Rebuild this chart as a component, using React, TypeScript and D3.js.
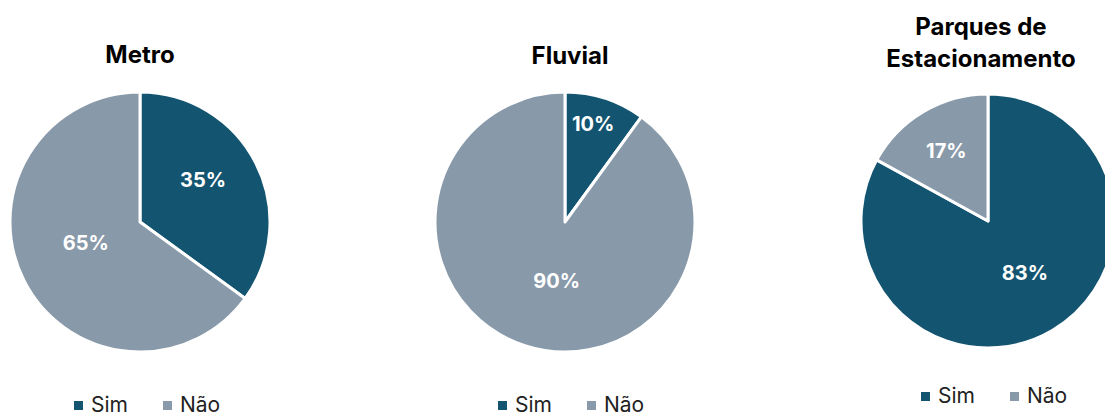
import React from "react";
import * as d3 from "d3";

const categories = ["Sim", "Não"];
const titles = [["Metro"], ["Fluvial"], ["Parques de", "Estacionamento"]];
const metroValues = [35, 65];
const fluvialValues = [10, 90];
const parquesValues = [83, 17];
const seriesValues = [metroValues, fluvialValues, parquesValues];

const colors = ["#135571", "#8899A9"];
const FONT = "Inter, 'Liberation Sans', Arial, sans-serif";

// layout per panel (positions/styles only): label radius factor and angular nudge (deg)
const layout = [
  { cx: 140, cy: 222, r: 130, titleY: [63], legendX: 148, legendY: 412, labelR: [0.585, 0.446], labelShift: [-7, 6] },
  { cx: 565, cy: 222, r: 130, titleY: [64], legendX: 572, legendY: 412, labelR: [0.785, 0.46], labelShift: [-2, -10] },
  { cx: 988, cy: 221, r: 127, titleY: [35, 67], legendX: 995, legendY: 403, labelR: [0.5, 0.645], labelShift: [-5, 0] },
];

function Panel({ idx }: { idx: number }) {
  const L = layout[idx];
  const values = seriesValues[idx];
  const pie = d3.pie<number>().sort(null).value((d) => d).startAngle(0).endAngle(2 * Math.PI);
  const arcs = pie(values);
  const arcGen = d3.arc<d3.PieArcDatum<number>>().innerRadius(0).outerRadius(L.r);
  const total = d3.sum(values);

  const markerSize = 9;
  const gapMarkerText = 8;
  const itemGap = 34;
  const fontSize = 21;
  const textW = [38, 42];
  const itemWidths = categories.map((_, i) => markerSize + gapMarkerText + textW[i]);
  const legendTotal = d3.sum(itemWidths) + itemGap;
  let lx = L.legendX - legendTotal / 2;

  return (
    <g>
      {titles[idx].map((t, i) => (
        <text
          key={i}
          x={idx === 2 ? L.cx - 7 : L.cx + (idx === 1 ? 5 : 0)}
          y={L.titleY[i]}
          textAnchor="middle"
          fontFamily={FONT}
          fontWeight={700}
          fontSize={24}
          fill="#000"
        >
          {t}
        </text>
      ))}
      <g transform={`translate(${L.cx},${L.cy})`}>
        {arcs.map((a, i) => (
          <path key={i} d={arcGen(a) || ""} fill={colors[i]} stroke="#fff" strokeWidth={3} strokeLinejoin="round" />
        ))}
        {arcs.map((a, i) => {
          const lr = L.r * L.labelR[i];
          const ang = (a.startAngle + a.endAngle) / 2 + (L.labelShift[i] * Math.PI) / 180;
          const x = lr * Math.sin(ang);
          const y = -lr * Math.cos(ang);
          return (
            <text
              key={i}
              x={x}
              y={y}
              dy="0.36em"
              textAnchor="middle"
              fontFamily={FONT}
              fontWeight={700}
              fontSize={20}
              fill="#fff"
            >
              {Math.round((a.data / total) * 100)}%
            </text>
          );
        })}
      </g>
      {categories.map((c, i) => {
        const x0 = lx;
        lx += itemWidths[i] + itemGap;
        return (
          <g key={c}>
            <rect x={x0} y={L.legendY - 11} width={markerSize} height={markerSize} fill={colors[i]} />
            <text x={x0 + markerSize + gapMarkerText} y={L.legendY} fontFamily={FONT} fontSize={fontSize} fill="#222">
              {c}
            </text>
          </g>
        );
      })}
    </g>
  );
}

export default function App() {
  return (
    <svg
      width={1105}
      height={412}
      style={{ position: "absolute", left: 0, top: 0, background: "#fff" }}
    >
      <rect width={1105} height={412} fill="#fff" />
      {[0, 1, 2].map((i) => (
        <Panel key={i} idx={i} />
      ))}
    </svg>
  );
}
